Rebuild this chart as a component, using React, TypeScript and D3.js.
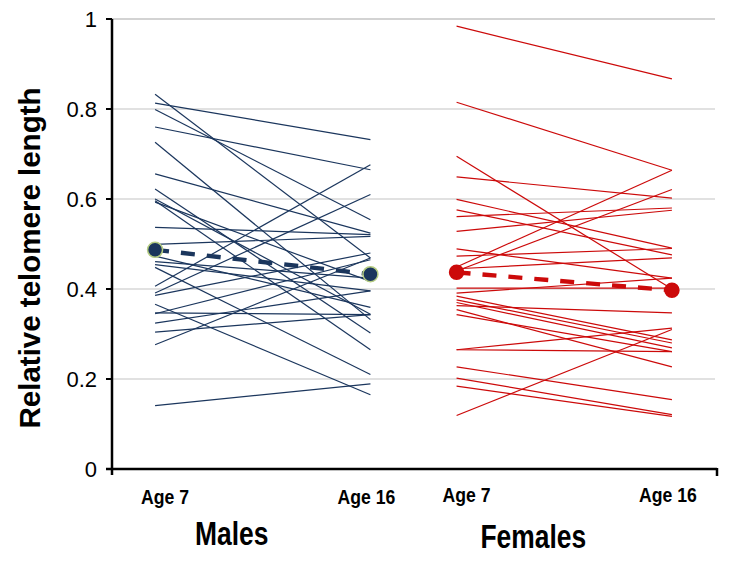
import React from "react";
import * as d3 from "d3";

const yTicks = [0, 0.2, 0.4, 0.6, 0.8, 1];
const groups = ["Males", "Females"];
const ageLabels = ["Age 7", "Age 16"];

const maleAge7 = [0.833, 0.813, 0.799, 0.76, 0.726, 0.656, 0.622, 0.6, 0.596, 0.593, 0.537, 0.499, 0.473, 0.461, 0.454, 0.448, 0.406, 0.391, 0.386, 0.366, 0.347, 0.345, 0.324, 0.304, 0.276, 0.141];
const maleAge16 = [0.469, 0.732, 0.554, 0.665, 0.332, 0.524, 0.302, 0.344, 0.265, 0.417, 0.521, 0.517, 0.359, 0.424, 0.396, 0.21, 0.676, 0.61, 0.48, 0.165, 0.343, 0.465, 0.396, 0.343, 0.469, 0.189];

const femaleAge7 = [0.984, 0.815, 0.695, 0.649, 0.599, 0.576, 0.561, 0.528, 0.489, 0.473, 0.449, 0.44, 0.445, 0.402, 0.391, 0.384, 0.376, 0.37, 0.363, 0.354, 0.343, 0.265, 0.265, 0.227, 0.202, 0.184, 0.119];
const femaleAge16 = [0.867, 0.664, 0.4, 0.602, 0.491, 0.476, 0.58, 0.575, 0.424, 0.49, 0.664, 0.621, 0.469, 0.402, 0.424, 0.287, 0.28, 0.269, 0.347, 0.227, 0.261, 0.313, 0.261, 0.154, 0.121, 0.117, 0.31];

const maleMean = [0.487, 0.433];
const femaleMean = [0.437, 0.397];

const W = 750;
const H = 564;
const left = 112;
const right = 715;
const top = 19;
const bottom = 469;

const maleColor = "#1B365D";
const femaleColor = "#CC0A0A";
const sans = "'Liberation Sans', Arial, sans-serif";

export default function App() {
  const y = d3.scaleLinear().domain([0, 1]).range([bottom, top]);
  const xGroup = d3.scaleBand<string>().domain(groups).range([left, right]);
  const xAge = d3.scalePoint<string>().domain(ageLabels).range([0, xGroup.bandwidth()]).padding(0.2);
  const px = (g: string, a: string) => (xGroup(g) as number) + (xAge(a) as number);

  const series = [
    { g: "Males", a7: maleAge7, a16: maleAge16, mean: maleMean, color: maleColor, dotStroke: "#B5CC82", r: 7.5 },
    { g: "Females", a7: femaleAge7, a16: femaleAge16, mean: femaleMean, color: femaleColor, dotStroke: femaleColor, r: 7 },
  ];

  const line = d3.line<[number, number]>();

  return (
    <svg width={W} height={H} style={{ position: "absolute", left: 0, top: 0, background: "#fff" }}>
      <rect width={W} height={H} fill="#fff" />
      {yTicks.map((t) => (
        <line key={"g" + t} x1={left} x2={right} y1={y(t)} y2={y(t)} stroke="#C4C4C4" strokeWidth={t === 1 ? 1.5 : 1.1} />
      ))}
      {series.map((s) => {
        const x0 = px(s.g, "Age 7");
        const x1 = px(s.g, "Age 16");
        return (
          <g key={s.g}>
            {s.a7.map((v, i) => (
              <path key={i} d={line([[x0, y(v)], [x1, y(s.a16[i])]]) as string} stroke={s.color} strokeWidth={1.2} fill="none" />
            ))}
            <path d={line([[x0, y(s.mean[0])], [x1, y(s.mean[1])]]) as string} stroke={s.color} strokeWidth={4.4} strokeDasharray="14,12" fill="none" />
            <circle cx={x0} cy={y(s.mean[0])} r={s.r} fill={s.color} stroke={s.dotStroke} strokeWidth={1.5} />
            <circle cx={x1} cy={y(s.mean[1])} r={s.r} fill={s.color} stroke={s.dotStroke} strokeWidth={1.5} />
          </g>
        );
      })}
      {/* axes */}
      <line x1={left} x2={left} y1={top} y2={bottom + 6} stroke="#000" strokeWidth={2.5} />
      <line x1={left - 6} x2={717} y1={bottom} y2={bottom} stroke="#000" strokeWidth={2.5} />
      <line x1={717} x2={717} y1={bottom - 1} y2={bottom + 7} stroke="#000" strokeWidth={2.5} />
      {yTicks.map((t) => (
        <g key={"t" + t}>
          <line x1={left - 6} x2={left} y1={y(t)} y2={y(t)} stroke="#000" strokeWidth={2} />
          <text x={97} y={y(t)} dy="0.36em" textAnchor="end" fontFamily={sans} fontSize={22} fill="#000">
            {d3.format("")(t)}
          </text>
        </g>
      ))}
      <text transform={`translate(40, ${(top + bottom) / 2 + 14}) rotate(-90)`} textAnchor="middle" fontFamily={sans} fontWeight="bold" fontSize={29.5} fill="#000">
        Relative telomere length
      </text>
      {groups.map((g, gi) => (
        <g key={"l" + g}>
          {ageLabels.map((a, ai) => (
            <text key={a} transform={`translate(${px(g, a) + (ai === 0 ? 10 : -4)}, ${gi === 0 ? 504 : 502}) scale(0.84, 1)`} textAnchor="middle" fontFamily={sans} fontWeight="bold" fontSize={21} fill="#000">
              {a}
            </text>
          ))}
          <text transform={`translate(${(xGroup(g) as number) + xGroup.bandwidth() / 2 - 31}, ${gi === 0 ? 545 : 548}) scale(0.8, 1)`} textAnchor="middle" fontFamily={sans} fontWeight="bold" fontSize={33} fill="#000">
            {g}
          </text>
        </g>
      ))}
    </svg>
  );
}
